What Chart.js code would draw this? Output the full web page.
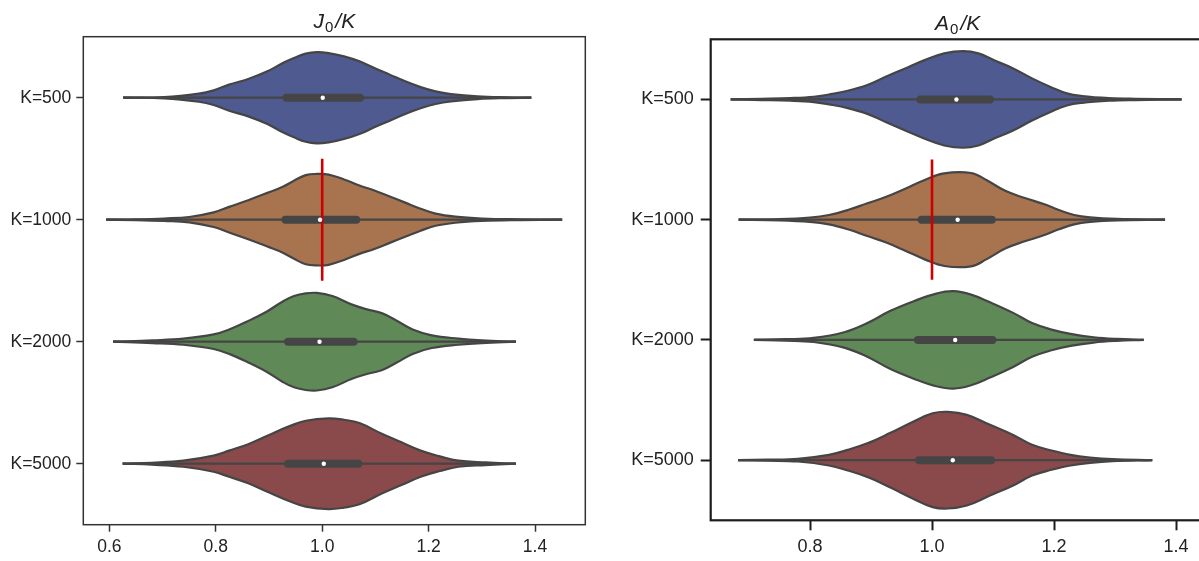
<!DOCTYPE html>
<html>
<head>
<meta charset="utf-8">
<script src="https://cdn.jsdelivr.net/npm/chart.js@4/dist/chart.umd.min.js"></script>
<style>
  html, body { margin: 0; padding: 0; background: #fff; overflow: hidden; }
  #wrap { position: relative; width: 1199px; height: 561px; overflow: hidden; }
  #chart-j0 { position: absolute; left: 0; top: 0; }
  #chart-a0 { position: absolute; left: 600px; top: 0; }
</style>
</head>
<body>
<div id="wrap">
  <canvas id="chart-j0" width="600" height="561"></canvas>
  <canvas id="chart-a0" width="640" height="561"></canvas>
</div>
<script>
'use strict';

const categories = ['K=500', 'K=1000', 'K=2000', 'K=5000'];
const xTicksJ0 = [0.6, 0.8, 1.0, 1.2, 1.4];
const xTicksA0 = [0.8, 1.0, 1.2, 1.4];
const violinColors = ['#4e5a90', '#a8744f', '#5f8a58', '#8a4a4b'];
const refValue = 1.0;

// density half-widths [x, h] along each violin (h in category units)
const j0K500 = [[0.626, 0], [0.703, 0.005], [0.768, 0.033], [0.796, 0.06], [0.825, 0.107], [0.861, 0.153],
  [0.897, 0.216], [0.926, 0.284], [0.947, 0.325], [0.969, 0.361], [0.990, 0.374], [1.012, 0.366],
  [1.041, 0.339], [1.070, 0.298], [1.098, 0.243], [1.127, 0.189], [1.156, 0.134], [1.185, 0.087],
  [1.213, 0.052], [1.242, 0.030], [1.292, 0.011], [1.35, 0.003], [1.393, 0]];
const j0K1000 = [[0.594, 0], [0.65, 0.003], [0.703, 0.010], [0.75, 0.022], [0.796, 0.06], [0.825, 0.105],
  [0.861, 0.16], [0.897, 0.22], [0.926, 0.27], [0.947, 0.32], [0.969, 0.365], [0.99, 0.375],
  [1.012, 0.37], [1.041, 0.33], [1.07, 0.28], [1.098, 0.24], [1.127, 0.19], [1.156, 0.14],
  [1.185, 0.09], [1.213, 0.05], [1.25, 0.025], [1.30, 0.01], [1.37, 0.003], [1.451, 0]];
const j0K2000 = [[0.607, 0], [0.681, 0.011], [0.739, 0.025], [0.796, 0.06], [0.825, 0.10], [0.861, 0.17],
  [0.897, 0.25], [0.926, 0.33], [0.947, 0.374], [0.969, 0.396], [0.990, 0.40], [1.019, 0.374],
  [1.055, 0.306], [1.084, 0.265], [1.113, 0.232], [1.141, 0.169], [1.170, 0.10], [1.206, 0.052],
  [1.256, 0.025], [1.300, 0.011], [1.364, 0]];
const j0K5000 = [[0.625, 0], [0.68, 0.008], [0.739, 0.025], [0.796, 0.066], [0.825, 0.107], [0.861, 0.16],
  [0.897, 0.23], [0.940, 0.31], [0.969, 0.352], [1.012, 0.372], [1.041, 0.36], [1.070, 0.333],
  [1.113, 0.243], [1.149, 0.175], [1.185, 0.107], [1.221, 0.06], [1.256, 0.025], [1.307, 0.011],
  [1.364, 0]];

const a0K500 = [[0.670, 0], [0.72, 0.005], [0.768, 0.011], [0.806, 0.022], [0.831, 0.041], [0.862, 0.072],
  [0.894, 0.12], [0.925, 0.19], [0.957, 0.26], [0.988, 0.327], [1.020, 0.383], [1.051, 0.402],
  [1.076, 0.383], [1.101, 0.327], [1.133, 0.258], [1.164, 0.175], [1.196, 0.10], [1.221, 0.05],
  [1.246, 0.028], [1.290, 0.011], [1.334, 0.005], [1.409, 0]];
const a0K1000 = [[0.683, 0], [0.75, 0.005], [0.80, 0.018], [0.831, 0.039], [0.862, 0.08], [0.894, 0.136],
  [0.925, 0.19], [0.957, 0.26], [0.988, 0.33], [1.020, 0.385], [1.064, 0.388], [1.089, 0.33],
  [1.120, 0.24], [1.152, 0.18], [1.183, 0.13], [1.208, 0.08], [1.233, 0.039], [1.259, 0.019],
  [1.303, 0.006], [1.382, 0]];
const a0K2000 = [[0.708, 0], [0.76, 0.006], [0.806, 0.017], [0.856, 0.064], [0.894, 0.14], [0.931, 0.24],
  [0.969, 0.32], [1.007, 0.385], [1.035, 0.405], [1.064, 0.377], [1.095, 0.313], [1.133, 0.225],
  [1.164, 0.14], [1.196, 0.086], [1.227, 0.05], [1.265, 0.022], [1.303, 0.008], [1.347, 0]];
const a0K5000 = [[0.682, 0], [0.73, 0.004], [0.780, 0.011], [0.831, 0.044], [0.862, 0.086], [0.894, 0.14],
  [0.931, 0.225], [0.969, 0.32], [1.001, 0.39], [1.026, 0.402], [1.057, 0.377], [1.095, 0.294],
  [1.133, 0.21], [1.164, 0.128], [1.196, 0.08], [1.227, 0.044], [1.259, 0.022], [1.296, 0.008],
  [1.361, 0]];

// inner box: whisker ends, quartiles, median
const j0Min = [0.626, 0.594, 0.607, 0.625];
const j0Max = [1.393, 1.451, 1.364, 1.364];
const j0Q1 = [0.933, 0.931, 0.936, 0.936];
const j0Q3 = [1.071, 1.064, 1.059, 1.068];
const j0Median = [1.001, 0.996, 0.995, 1.003];

const a0Min = [0.670, 0.683, 0.708, 0.682];
const a0Max = [1.409, 1.382, 1.347, 1.361];
const a0Q1 = [0.981, 0.983, 0.977, 0.979];
const a0Q3 = [1.095, 1.098, 1.099, 1.097];
const a0Median = [1.040, 1.042, 1.038, 1.034];

const FONT = "'Liberation Sans', Arial, sans-serif";
const LINE = '#454545';

function buildDatasets(profiles, mins, maxs, q1s, q3s, medians) {
    const sets = [];
    profiles.forEach((prof, i) => {
        const outline = {
            borderColor: LINE,
            borderWidth: 2.2,
            pointRadius: 0,
            tension: 0.4,
            order: 5
        };
        sets.push(Object.assign({
            data: prof.map(([x, h]) => ({ x, y: i - h })),
            backgroundColor: violinColors[i],
            fill: '+1'
        }, outline));
        sets.push(Object.assign({
            data: prof.map(([x, h]) => ({ x, y: i + h })),
            fill: false
        }, outline));
    });
    categories.forEach((c, i) => {
        sets.push({
            data: [{ x: mins[i], y: i }, { x: maxs[i], y: i }],
            borderColor: LINE, borderWidth: 2.2, pointRadius: 0, fill: false, order: 4
        });
        sets.push({
            data: [{ x: q1s[i], y: i }, { x: q3s[i], y: i }],
            borderColor: LINE, borderWidth: 8, borderCapStyle: 'round',
            pointRadius: 0, fill: false, order: 3
        });
        sets.push({
            data: [{ x: medians[i], y: i }],
            showLine: false, pointRadius: 2.2, pointBorderWidth: 0,
            pointBackgroundColor: '#ffffff', order: 1
        });
    });
    // reference line through the K=1000 violin
    sets.push({
        data: [{ x: refValue, y: 0.5 }, { x: refValue, y: 1.5 }],
        borderColor: '#cc0000', borderWidth: 2.6, pointRadius: 0, fill: false, order: 2
    });
    return sets;
}

function framePlugin(color, width) {
    return {
        id: 'frame',
        afterDraw(chart) {
            const a = chart.chartArea;
            const ctx = chart.ctx;
            ctx.save();
            ctx.strokeStyle = color;
            ctx.lineWidth = width;
            ctx.strokeRect(a.left, a.top, a.right - a.left, a.bottom - a.top);
            ctx.restore();
        }
    };
}

// title like "J₀/K": italic letter, upright subscript, italic "/K"
function titlePlugin(letter, baseline, size) {
    return {
        id: 'mathTitle',
        afterDraw(chart) {
            const ctx = chart.ctx;
            const a = chart.chartArea;
            const parts = [
                { t: letter, font: `italic ${size}px ${FONT}`, dy: 0, gap: 1 },
                { t: '0', font: `${Math.round(size * 0.7)}px ${FONT}`, dy: size * 0.2, gap: 2 },
                { t: '/K', font: `italic ${size}px ${FONT}`, dy: 0, gap: 0 }
            ];
            ctx.save();
            let total = 0;
            parts.forEach(p => { ctx.font = p.font; p.w = ctx.measureText(p.t).width; total += p.w + p.gap; });
            let x = (a.left + a.right) / 2 - total / 2;
            ctx.fillStyle = '#222';
            ctx.textBaseline = 'alphabetic';
            parts.forEach(p => {
                ctx.font = p.font;
                ctx.fillText(p.t, x, baseline + p.dy);
                x += p.w + p.gap;
            });
            ctx.restore();
        }
    };
}

function makeChart(id, opts) {
    const ctx = document.getElementById(id).getContext('2d');
    const axisGrid = {
        display: true, drawOnChartArea: false, drawTicks: true,
        tickLength: opts.tickLen, tickWidth: opts.tickWidth, tickColor: opts.frameColor
    };
    return new Chart(ctx, {
        type: 'line',
        data: { datasets: opts.datasets },
        options: {
            animation: false,
            responsive: false,
            devicePixelRatio: 1,
            layout: { padding: opts.padding },
            plugins: {
                legend: { display: false },
                tooltip: { enabled: false },
                filler: { drawTime: 'beforeDatasetsDraw' }
            },
            scales: {
                x: {
                    type: 'linear',
                    min: opts.xMin,
                    max: opts.xMax,
                    afterBuildTicks: (s) => { s.ticks = opts.xTicks.map(v => ({ value: v })); },
                    afterFit: (s) => { s.height = opts.xHeight; },
                    ticks: {
                        callback: (v) => v.toFixed(1),
                        font: { family: FONT, size: opts.fontSize },
                        color: '#222',
                        padding: opts.xPad,
                        maxRotation: 0,
                        autoSkip: false
                    },
                    grid: axisGrid,
                    border: { display: false }
                },
                y: {
                    type: 'linear',
                    reverse: true,
                    min: -0.5,
                    max: 3.5,
                    afterBuildTicks: (s) => { s.ticks = categories.map((c, i) => ({ value: i })); },
                    afterFit: (s) => { s.width = opts.yWidth; },
                    ticks: {
                        callback: (v) => categories[v],
                        font: { family: FONT, size: opts.fontSize },
                        color: '#222',
                        padding: opts.yPad,
                        autoSkip: false
                    },
                    grid: axisGrid,
                    border: { display: false }
                }
            }
        },
        plugins: [framePlugin(opts.frameColor, opts.frameWidth), titlePlugin(opts.letter, opts.titleBase, opts.titleSize)]
    });
}

makeChart('chart-j0', {
    datasets: buildDatasets([j0K500, j0K1000, j0K2000, j0K5000], j0Min, j0Max, j0Q1, j0Q3, j0Median),
    padding: { left: 0, top: 36.7, right: 14.7, bottom: 0 },
    xMin: 0.551, xMax: 1.4945, xTicks: xTicksJ0,
    xHeight: 36.3, yWidth: 83.3,
    fontSize: 17.5, xPad: 5, yPad: 5,
    tickLen: 7, tickWidth: 1.5,
    frameColor: '#333333', frameWidth: 1.5,
    letter: 'J', titleBase: 28, titleSize: 21
});

makeChart('chart-a0', {
    datasets: buildDatasets([a0K500, a0K1000, a0K2000, a0K5000], a0Min, a0Max, a0Q1, a0Q3, a0Median),
    padding: { left: 0, top: 39.3, right: 35.3, bottom: 0 },
    xMin: 0.6372, xMax: 1.447, xTicks: xTicksA0,
    xHeight: 40.7, yWidth: 110.7,
    fontSize: 18, xPad: 6, yPad: 7,
    tickLen: 10, tickWidth: 2,
    frameColor: '#1c1c1c', frameWidth: 2.2,
    letter: 'A', titleBase: 29.5, titleSize: 21
});
</script>
</body>
</html>
